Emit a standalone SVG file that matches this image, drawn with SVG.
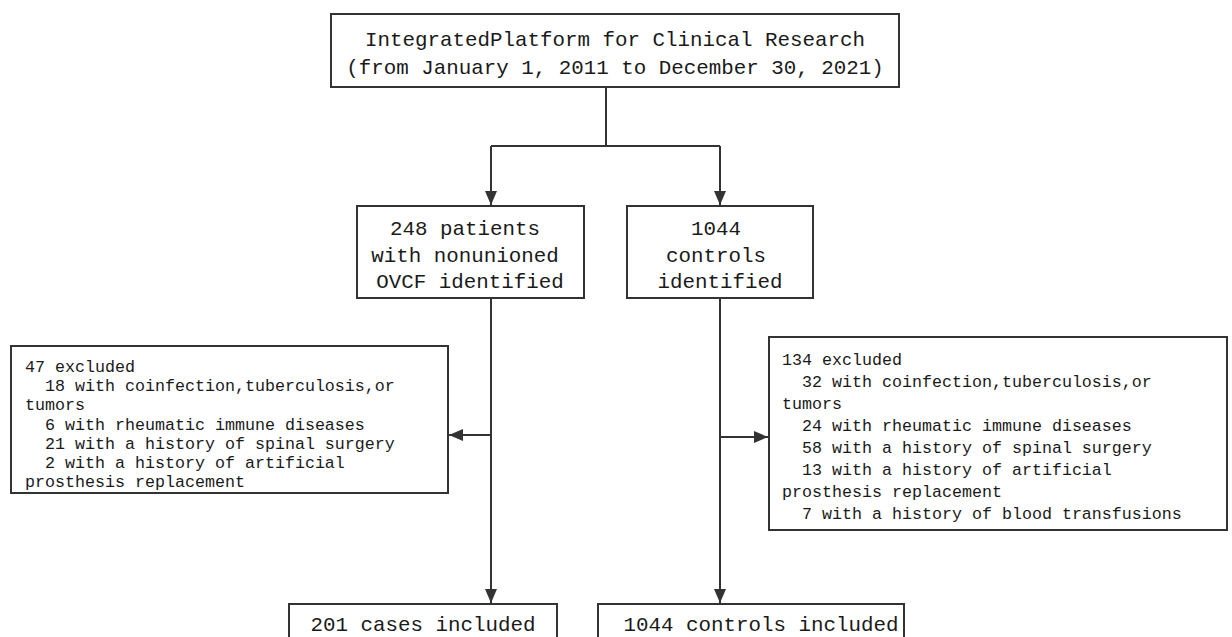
<svg xmlns="http://www.w3.org/2000/svg" width="1232" height="637" viewBox="0 0 1232 637">
<style>
.box{fill:#fff;stroke:#333;stroke-width:2}
.big{font-family:"Liberation Mono",monospace;font-size:20.83px;fill:#1a1a1a}
.small{font-family:"Liberation Mono",monospace;font-size:16.67px;fill:#1a1a1a}
.c{text-anchor:middle}
.line{fill:none;stroke:#333;stroke-width:2}
</style>
<defs>
<marker id="arr" viewBox="0 0 14 12" refX="14" refY="6" markerWidth="14" markerHeight="12" markerUnits="userSpaceOnUse" orient="auto">
<path d="M0,0 L14,6 L0,12 Z" fill="#333"/>
</marker>
</defs>
<rect width="1232" height="637" fill="#fff"/>
<g id="connectors">
<path class="line" d="M606,87 V146"/>
<path class="line" d="M491,146 H720"/>
<path class="line" d="M491,146 V205" marker-end="url(#arr)"/>
<path class="line" d="M720,146 V205" marker-end="url(#arr)"/>
<path class="line" d="M491,299 V603" marker-end="url(#arr)"/>
<path class="line" d="M720,299 V603" marker-end="url(#arr)"/>
<path class="line" d="M491,435 H449" marker-end="url(#arr)"/>
<path class="line" d="M720,437 H768" marker-end="url(#arr)"/>
</g>
<g id="source">
<rect class="box" x="331" y="14" width="568" height="73"/>
<text class="big c" x="615" y="46">IntegratedPlatform for Clinical Research</text>
<text class="big c" x="615" y="74">(from January 1, 2011 to December 30, 2021)</text>
</g>
<g id="patients">
<rect class="box" x="357" y="206" width="227" height="92"/>
<text class="big c" x="465" y="235">248 patients</text>
<text class="big c" x="465" y="262">with nonunioned</text>
<text class="big c" x="470" y="288">OVCF identified</text>
</g>
<g id="controls">
<rect class="box" x="627" y="206" width="186" height="92"/>
<text class="big c" x="716" y="235">1044</text>
<text class="big c" x="716" y="262">controls</text>
<text class="big c" x="720" y="288">identified</text>
</g>
<g id="excluded-left">
<rect class="box" x="11" y="346" width="437" height="147"/>
<text class="small">
<tspan x="25" y="372">47 excluded</tspan>
<tspan x="45" y="391">18 with coinfection,tuberculosis,or</tspan>
<tspan x="25" y="410">tumors</tspan>
<tspan x="45" y="430">6 with rheumatic immune diseases</tspan>
<tspan x="45" y="449">21 with a history of spinal surgery</tspan>
<tspan x="45" y="468">2 with a history of artificial</tspan>
<tspan x="25" y="487">prosthesis replacement</tspan>
</text>
</g>
<g id="excluded-right">
<rect class="box" x="769" y="337" width="458" height="193"/>
<text class="small">
<tspan x="782" y="365">134 excluded</tspan>
<tspan x="802" y="387">32 with coinfection,tuberculosis,or</tspan>
<tspan x="782" y="409">tumors</tspan>
<tspan x="802" y="431">24 with rheumatic immune diseases</tspan>
<tspan x="802" y="453">58 with a history of spinal surgery</tspan>
<tspan x="802" y="475">13 with a history of artificial</tspan>
<tspan x="782" y="497">prosthesis replacement</tspan>
<tspan x="802" y="519">7 with a history of blood transfusions</tspan>
</text>
</g>
<g id="cases-included">
<rect class="box" x="289" y="604" width="268" height="50"/>
<text class="big c" x="423" y="631">201 cases included</text>
</g>
<g id="controls-included">
<rect class="box" x="598" y="604" width="306" height="50"/>
<text class="big c" x="761" y="631">1044 controls included</text>
</g>
</svg>
